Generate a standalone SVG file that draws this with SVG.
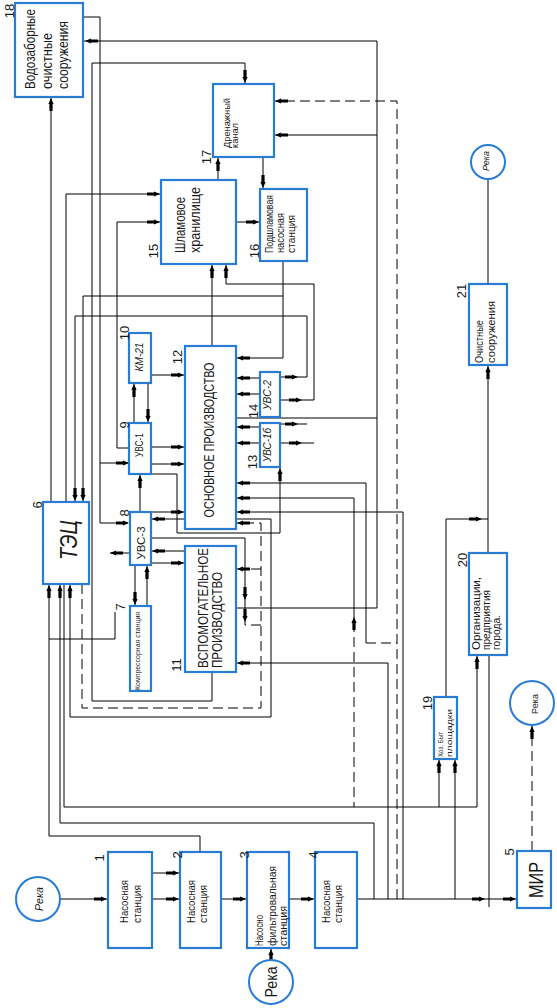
<svg xmlns="http://www.w3.org/2000/svg" xmlns:xlink="http://www.w3.org/1999/xlink" width="557" height="1008" viewBox="0 0 557 1008">
<style>
.box{fill:#fff;stroke:#2a7bd4;stroke-width:2.2}
.riv{fill:#fff;stroke:#2a7bd4;stroke-width:2}
.t{font-family:"Liberation Sans",Arial,sans-serif;fill:#1a1a1a}
.i{font-style:italic}
.num{font-family:"Liberation Sans",Arial,sans-serif;fill:#1a1a1a;font-size:13px;text-anchor:middle}
.ln{fill:none;stroke:#000;stroke-width:1}
.ds{fill:none;stroke:#000;stroke-width:1;stroke-dasharray:10,5}
</style>
<defs>
<path id="a" d="M0,0 L-6,-2.6 L-6,-1.6 L-13,-1.6 L-13,1.6 L-6,1.6 L-6,2.6 Z" fill="#000"/>
</defs>
<rect width="557" height="1008" fill="#fff"/>

<g id="connectors">
<path class="ln" d="M83,17 H100 V523 H128 M100,463 H128"/>
<path class="ln" d="M84,41 H377 V608 H236 M236,418 H377 M377,135 H275"/>
<path class="ln" d="M212,672 V701 H92 V63 H245 V83"/>
<path class="ln" d="M263,157 V188 M218,180 V158 M236,222 H259"/>
<path class="ln" d="M283,261 V358 H237 M283,296 H83 V501"/>
<path class="ln" d="M66,502 V194 H160 M51,502 V98 M129,448 H117 V222 H160 M212,346 V265"/>
<path class="ln" d="M280,400 H314 V284 H226 V265 M280,443 H314"/>
<path class="ln" d="M280,377 H307 V316 H75 V501 M280,424 H307"/>
<path class="ln" d="M260,378 H237 M260,394 H237 M260,427 H237 M260,443 H237"/>
<path class="ln" d="M151,375 H184 M151,447 H184 M151,464 H184 M151,512 H184 M185,519 H152"/>
<path class="ln" d="M134,423 V384 M148,383 V422 M140,512 V475 M135,565 V605 M147,606 V566"/>
<path class="ln" d="M130,553 H110 M185,551 H152 M151,563 H184"/>
<path class="ln" d="M151,474 H177 V533 H280 V468"/>
<path class="ln" d="M151,538 H245 V625"/>
<path class="ln" d="M236,483 H366 V643 M236,498 H354 V622 M237,512 H403 V899"/>
<path class="ds" d="M366,643 H397 M354,622 V807"/>
<path class="ds" d="M82,584 V708 H261 V523 H237 M261,569 H237 M261,625 H245"/>
<path class="ln" d="M236,519 H271 V717 H70 V585"/>
<path class="ln" d="M388,899 V663 H237"/>
<path class="ln" d="M64,584 V807 H477 V656 M439,807 V760 M455,899 V760"/>
<path class="ln" d="M446,697 V519 H488 M488,553 V366 M488,284 V179 M489,655 V907"/>
<path class="ln" d="M357,899 H516"/>
<path class="ds" d="M532,851 V726"/>
<path class="ds" d="M397,899 V101 H275"/>
<path class="ln" d="M374,899 V823 H60 V585"/>
<path class="ln" d="M200,852 V836 H49 V585 M49,639 H115 V612"/>
<path class="ln" d="M60,899 H107 M152,873 H179 M152,899 H179 M221,899 H246 M289,899 H314 M271,960 V949"/>
<g id="arrows">
<use href="#a" transform="translate(129,523)"/>
<use href="#a" transform="translate(129,463)"/>
<use href="#a" transform="translate(85,41) rotate(180)"/>
<use href="#a" transform="translate(275,135) rotate(180)"/>
<use href="#a" transform="translate(275,101) rotate(180)"/>
<use href="#a" transform="translate(245,83) rotate(90)"/>
<use href="#a" transform="translate(263,188) rotate(90)"/>
<use href="#a" transform="translate(218,158) rotate(-90)"/>
<use href="#a" transform="translate(259,222)"/>
<use href="#a" transform="translate(237,358) rotate(180)"/>
<use href="#a" transform="translate(83,501) rotate(90)"/>
<use href="#a" transform="translate(75,501) rotate(90)"/>
<use href="#a" transform="translate(160,194)"/>
<use href="#a" transform="translate(160,222)"/>
<use href="#a" transform="translate(51,98) rotate(-90)"/>
<use href="#a" transform="translate(212,265) rotate(-90)"/>
<use href="#a" transform="translate(226,265) rotate(-90)"/>
<use href="#a" transform="translate(302,400)"/>
<use href="#a" transform="translate(302,443)"/>
<use href="#a" transform="translate(298,377)"/>
<use href="#a" transform="translate(298,424)"/>
<use href="#a" transform="translate(237,378) rotate(180)"/>
<use href="#a" transform="translate(237,394) rotate(180)"/>
<use href="#a" transform="translate(237,427) rotate(180)"/>
<use href="#a" transform="translate(237,443) rotate(180)"/>
<use href="#a" transform="translate(184,375)"/>
<use href="#a" transform="translate(184,447)"/>
<use href="#a" transform="translate(184,464)"/>
<use href="#a" transform="translate(184,512)"/>
<use href="#a" transform="translate(152,519) rotate(180)"/>
<use href="#a" transform="translate(134,384) rotate(-90)"/>
<use href="#a" transform="translate(148,422) rotate(90)"/>
<use href="#a" transform="translate(140,475) rotate(-90)"/>
<use href="#a" transform="translate(135,605) rotate(90)"/>
<use href="#a" transform="translate(147,566) rotate(-90)"/>
<use href="#a" transform="translate(110,553) rotate(180)"/>
<use href="#a" transform="translate(152,551) rotate(180)"/>
<use href="#a" transform="translate(184,563)"/>
<use href="#a" transform="translate(280,468) rotate(-90)"/>
<use href="#a" transform="translate(245,600) rotate(90)"/>
<use href="#a" transform="translate(245,622) rotate(90)"/>
<use href="#a" transform="translate(237,483) rotate(180)"/>
<use href="#a" transform="translate(237,498) rotate(180)"/>
<use href="#a" transform="translate(237,512) rotate(180)"/>
<use href="#a" transform="translate(237,523) rotate(180)"/>
<use href="#a" transform="translate(237,569) rotate(180)"/>
<use href="#a" transform="translate(237,663) rotate(180)"/>
<use href="#a" transform="translate(354,617) rotate(-90)"/>
<use href="#a" transform="translate(70,585) rotate(-90)"/>
<use href="#a" transform="translate(60,585) rotate(-90)"/>
<use href="#a" transform="translate(49,585) rotate(-90)"/>
<use href="#a" transform="translate(477,656) rotate(-90)"/>
<use href="#a" transform="translate(439,760) rotate(-90)"/>
<use href="#a" transform="translate(455,760) rotate(-90)"/>
<use href="#a" transform="translate(482,519)"/>
<use href="#a" transform="translate(488,366) rotate(-90)"/>
<use href="#a" transform="translate(485,899)"/>
<use href="#a" transform="translate(516,899)"/>
<use href="#a" transform="translate(532,726) rotate(-90)"/>
<use href="#a" transform="translate(107,899)"/>
<use href="#a" transform="translate(179,873)"/>
<use href="#a" transform="translate(179,899)"/>
<use href="#a" transform="translate(246,899)"/>
<use href="#a" transform="translate(314,899)"/>
<use href="#a" transform="translate(271,949) rotate(-90)"/>
</g>
</g>

<g id="n18">
<rect class="box" x="15" y="3" width="68" height="94"/>
<text class="t" font-size="14" transform="translate(35,89) rotate(-90)" textLength="80" lengthAdjust="spacingAndGlyphs">Водозаборные</text>
<text class="t" font-size="14" transform="translate(52,89) rotate(-90)" textLength="56" lengthAdjust="spacingAndGlyphs">очистные</text>
<text class="t" font-size="14" transform="translate(68,89) rotate(-90)" textLength="68" lengthAdjust="spacingAndGlyphs">сооружения</text>
<text class="num" transform="translate(14,11) rotate(-90)">18</text>
</g>
<g id="n17">
<rect class="box" x="213" y="84" width="61" height="73"/>
<text class="t" font-size="9" transform="translate(230,148) rotate(-90)" textLength="50" lengthAdjust="spacingAndGlyphs">Дренажный</text>
<text class="t" font-size="9" transform="translate(238,148) rotate(-90)" textLength="25" lengthAdjust="spacingAndGlyphs">канал</text>
<text class="num" font-size="15" transform="translate(211,157) rotate(-90)">17</text>
</g>
<g id="n15">
<rect class="box" x="161" y="180" width="75" height="84"/>
<text class="t" font-size="15" transform="translate(185,253) rotate(-90)" textLength="56" lengthAdjust="spacingAndGlyphs">Шламовое</text>
<text class="t" font-size="15" transform="translate(200,253) rotate(-90)" textLength="66" lengthAdjust="spacingAndGlyphs">хранилище</text>
<text class="num" transform="translate(158,251) rotate(-90)">15</text>
</g>
<g id="n16">
<rect class="box" x="260" y="189" width="47" height="72"/>
<text class="t" font-size="10" transform="translate(273,253) rotate(-90)" textLength="58" lengthAdjust="spacingAndGlyphs">Подшламовая</text>
<text class="t" font-size="10" transform="translate(284,253) rotate(-90)" textLength="40" lengthAdjust="spacingAndGlyphs">насосная</text>
<text class="t" font-size="10" transform="translate(295,253) rotate(-90)" textLength="38" lengthAdjust="spacingAndGlyphs">станция</text>
<text class="num" transform="translate(259,251) rotate(-90)">16</text>
</g>
<g id="n10">
<rect class="box" x="129" y="333" width="22" height="50"/>
<text class="t i" font-size="10" text-anchor="middle" transform="translate(143,357) rotate(-90)" textLength="29" lengthAdjust="spacingAndGlyphs">КМ-21</text>
<text class="num" transform="translate(129,333) rotate(-90)">10</text>
</g>
<g id="n12">
<rect class="box" x="185" y="346" width="51" height="183"/>
<text class="t" font-size="15" text-anchor="middle" transform="translate(214,440) rotate(-90)" textLength="155" lengthAdjust="spacingAndGlyphs">ОСНОВНОЕ ПРОИЗВОДСТВО</text>
<text class="num" transform="translate(182,357) rotate(-90)">12</text>
</g>
<g id="n9">
<rect class="box" x="129" y="423" width="22" height="51"/>
<text class="t" font-size="10" text-anchor="middle" transform="translate(143,445) rotate(-90)" textLength="24" lengthAdjust="spacingAndGlyphs">УВС-1</text>
<text class="num" transform="translate(129,425) rotate(-90)">9</text>
</g>
<g id="n14">
<rect class="box" x="260" y="372" width="20" height="45"/>
<text class="t i" font-size="10" text-anchor="middle" transform="translate(271,395) rotate(-90)" textLength="30" lengthAdjust="spacingAndGlyphs">УВС-2</text>
<text class="num" transform="translate(258,411) rotate(-90)">14</text>
</g>
<g id="n13">
<rect class="box" x="260" y="423" width="20" height="44"/>
<text class="t i" font-size="10" text-anchor="middle" transform="translate(271,445) rotate(-90)" textLength="34" lengthAdjust="spacingAndGlyphs">УВС-1б</text>
<text class="num" transform="translate(257,462) rotate(-90)">13</text>
</g>
<g id="n8">
<rect class="box" x="130" y="512" width="21" height="53"/>
<text class="t" font-size="11" text-anchor="middle" transform="translate(145,543) rotate(-90)" textLength="33" lengthAdjust="spacingAndGlyphs">УВС-3</text>
<text class="num" transform="translate(129,513) rotate(-90)">8</text>
</g>
<g id="n6">
<rect class="box" x="43" y="502" width="46" height="82"/>
<text class="t i" font-size="24" text-anchor="middle" transform="translate(77,540) rotate(-90)" textLength="40" lengthAdjust="spacingAndGlyphs">ТЭЦ</text>
<text class="num" font-size="11" transform="translate(42,505) rotate(-90)">6</text>
</g>
<g id="n7">
<rect class="box" x="130" y="606" width="21" height="85"/>
<text class="t" font-size="8" text-anchor="middle" transform="translate(140,651) rotate(-90)" textLength="78" lengthAdjust="spacingAndGlyphs">Компрессорная станция</text>
<text class="num" font-size="15" transform="translate(125,607) rotate(-90)">7</text>
</g>
<g id="n11">
<rect class="box" x="185" y="546" width="51" height="126"/>
<text class="t" font-size="15" transform="translate(208,668) rotate(-90)" textLength="120" lengthAdjust="spacingAndGlyphs">ВСПОМОГАТЕЛЬНОЕ</text>
<text class="t" font-size="15" transform="translate(222,668) rotate(-90)" textLength="96" lengthAdjust="spacingAndGlyphs">ПРОИЗВОДСТВО</text>
<text class="num" transform="translate(181,665) rotate(-90)">11</text>
</g>
<g id="n1">
<rect class="box" x="108" y="852" width="44" height="96"/>
<text class="t" font-size="10" transform="translate(128,923) rotate(-90)" textLength="43" lengthAdjust="spacingAndGlyphs">Насосная</text>
<text class="t" font-size="10" transform="translate(141,923) rotate(-90)" textLength="38" lengthAdjust="spacingAndGlyphs">станция</text>
<text class="num" transform="translate(104,858) rotate(-90)">1</text>
</g>
<g id="n2">
<rect class="box" x="180" y="852" width="41" height="96"/>
<text class="t" font-size="10" transform="translate(195,923) rotate(-90)" textLength="43" lengthAdjust="spacingAndGlyphs">Насосная</text>
<text class="t" font-size="10" transform="translate(207,923) rotate(-90)" textLength="38" lengthAdjust="spacingAndGlyphs">станция</text>
<text class="num" transform="translate(182,855) rotate(-90)">2</text>
</g>
<g id="n3">
<rect class="box" x="247" y="852" width="42" height="96"/>
<text class="t" font-size="10" transform="translate(263,946) rotate(-90)" textLength="31" lengthAdjust="spacingAndGlyphs">Насосно</text>
<text class="t" font-size="10" transform="translate(276,946) rotate(-90)" textLength="80" lengthAdjust="spacingAndGlyphs">фильтровальная</text>
<text class="t" font-size="10" transform="translate(287,946) rotate(-90)" textLength="40" lengthAdjust="spacingAndGlyphs">станция</text>
<text class="num" transform="translate(249,855) rotate(-90)">3</text>
</g>
<g id="n4">
<rect class="box" x="315" y="852" width="42" height="96"/>
<text class="t" font-size="10" transform="translate(330,923) rotate(-90)" textLength="43" lengthAdjust="spacingAndGlyphs">Насосная</text>
<text class="t" font-size="10" transform="translate(342,923) rotate(-90)" textLength="38" lengthAdjust="spacingAndGlyphs">станция</text>
<text class="num" transform="translate(318,855) rotate(-90)">4</text>
</g>
<g id="n5">
<rect class="box" x="517" y="851" width="34" height="57"/>
<text class="t" font-size="20" text-anchor="middle" transform="translate(543,880) rotate(-90)" textLength="36" lengthAdjust="spacingAndGlyphs">МИР</text>
<text class="num" font-size="11" transform="translate(514,852) rotate(-90)">5</text>
</g>
<g id="n19">
<rect class="box" x="434" y="697" width="23" height="62"/>
<text class="t" font-size="7" transform="translate(443,757) rotate(-90)" textLength="25" lengthAdjust="spacingAndGlyphs">Хоз. Быт</text>
<text class="t" font-size="7" transform="translate(452,757) rotate(-90)" textLength="48" lengthAdjust="spacingAndGlyphs">площадки</text>
<text class="num" transform="translate(432,703) rotate(-90)">19</text>
</g>
<g id="n20">
<rect class="box" x="469" y="553" width="38" height="102"/>
<text class="t" font-size="10" transform="translate(480,650) rotate(-90)" textLength="73" lengthAdjust="spacingAndGlyphs">Организации,</text>
<text class="t" font-size="10" transform="translate(490,650) rotate(-90)" textLength="60" lengthAdjust="spacingAndGlyphs">предприятия</text>
<text class="t" font-size="10" transform="translate(500,650) rotate(-90)" textLength="35" lengthAdjust="spacingAndGlyphs">города.</text>
<text class="num" transform="translate(467,560) rotate(-90)">20</text>
</g>
<g id="n21">
<rect class="box" x="469" y="284" width="38" height="81"/>
<text class="t" font-size="10" transform="translate(483,363) rotate(-90)" textLength="43" lengthAdjust="spacingAndGlyphs">Очистные</text>
<text class="t" font-size="10" transform="translate(495,363) rotate(-90)" textLength="62" lengthAdjust="spacingAndGlyphs">сооружения</text>
<text class="num" transform="translate(466,291) rotate(-90)">21</text>
</g>
<g id="r1">
<circle class="riv" cx="38" cy="899" r="22"/>
<text class="t i" font-size="11" text-anchor="middle" transform="translate(43,899) rotate(-90)" textLength="24" lengthAdjust="spacingAndGlyphs">Река</text>
</g>
<g id="r2">
<circle class="riv" cx="271" cy="982" r="22"/>
<text class="t" font-size="17" text-anchor="middle" transform="translate(277,982) rotate(-90)" textLength="31" lengthAdjust="spacingAndGlyphs">Река</text>
</g>
<g id="r3">
<circle class="riv" cx="532" cy="703" r="22"/>
<text class="t" font-size="9" text-anchor="middle" transform="translate(538,704) rotate(-90)" textLength="20" lengthAdjust="spacingAndGlyphs">Река</text>
</g>
<g id="r4">
<circle class="riv" cx="488" cy="162" r="17"/>
<text class="t i" font-size="9" text-anchor="middle" transform="translate(489,161) rotate(-90)" textLength="20" lengthAdjust="spacingAndGlyphs">Река</text>
</g>
</svg>
